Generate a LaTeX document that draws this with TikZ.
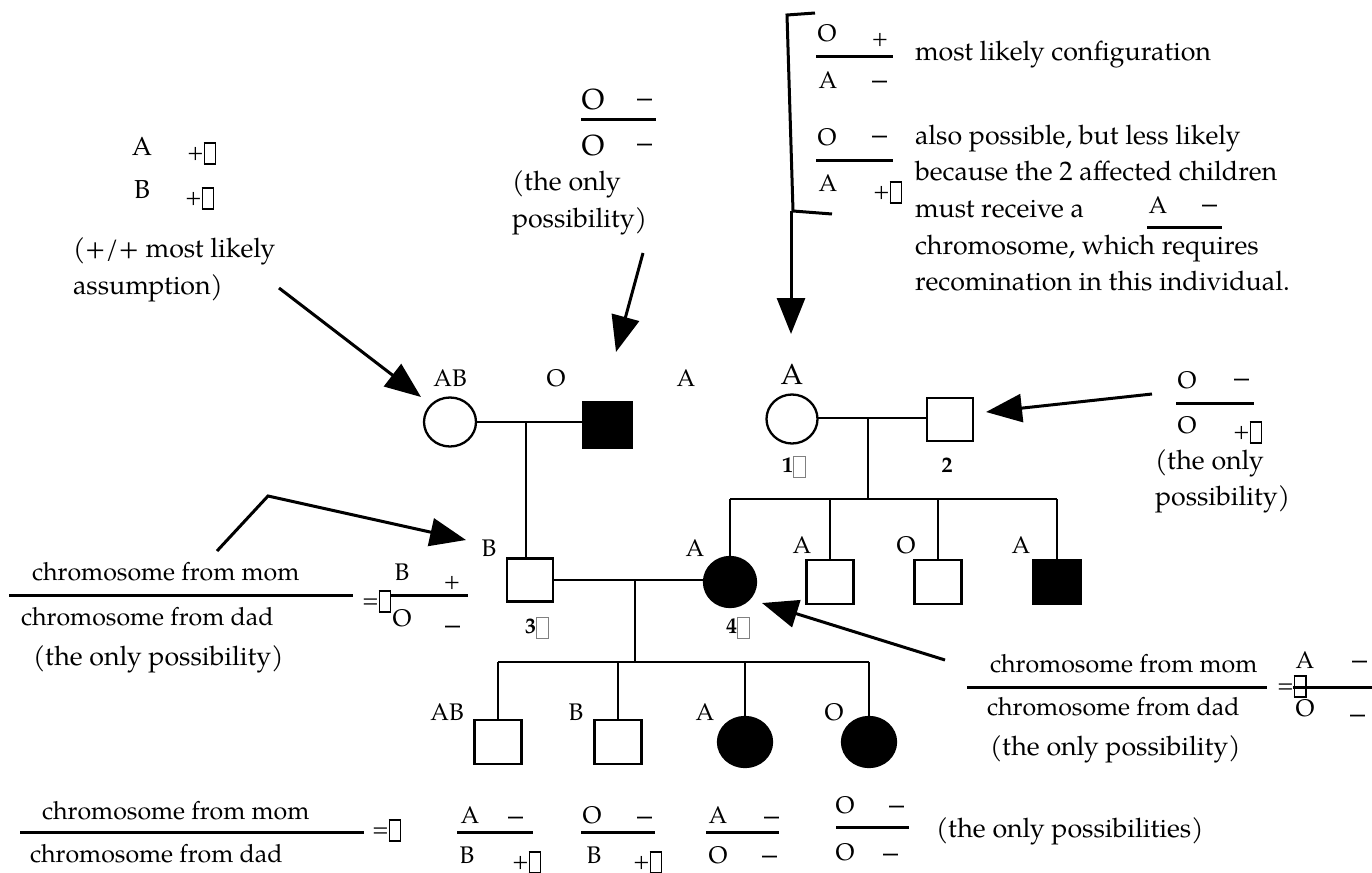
\documentclass[tikz,border=0pt]{standalone}
\usepackage{fontspec}
\setmainfont{TeX Gyre Pagella}
\usetikzlibrary{arrows.meta,shapes.geometric}
\newcommand{\tofu}{\raisebox{-0.2em}{\setlength{\fboxsep}{0pt}\setlength{\fboxrule}{0.055em}\fbox{\rule{0.47em}{0pt}\rule{0pt}{0.9em}}}}
\tikzset{
  every node/.style={inner sep=0, outer sep=0},
  capL/.style={font=\fontsize{24}{28}\selectfont, anchor=base, yshift=-8.3pt},
  capXL/.style={font=\fontsize{29}{32}\selectfont, anchor=base, yshift=-10pt},
  sgn/.style={font=\fontsize{22}{26}\selectfont, anchor=base, yshift=-6pt},
  dsh/.style={font=\fontsize{30}{34}\selectfont, anchor=base, yshift=-7.5pt},
  sgnw/.style={font=\fontsize{22}{26}\selectfont, anchor=base west, yshift=-6pt},
  txt/.style={font=\fontsize{26.8}{30}\selectfont, anchor=base west, yshift=-7.5pt},
  chrom/.style={font=\fontsize{25}{30}\selectfont, anchor=base west, yshift=-7.5pt},
  num/.style={font=\fontsize{22}{26}\selectfont\bfseries, anchor=base, yshift=-7.5pt},
  ped/.style={line width=2.3pt},
  bar/.style={line width=3pt},
  pointer/.style={line width=3pt, -{Triangle[length=36pt,width=28pt]}},
  fem/.style={ellipse, draw, line width=2.3pt, minimum width=52pt, minimum height=49pt},
  male/.style={rectangle, draw, line width=2.3pt, minimum width=47pt, minimum height=44pt},
  aff/.style={fill=black},
}
\begin{document}
\begin{tikzpicture}[x=1pt,y=-1pt]
\useasboundingbox (0,0) rectangle (1372,872);
\fill[white] (0,0) rectangle (1372,872);

% ---------- pedigree ----------
\node[fem] (i1) at (450,422) {};
\node[male,aff,minimum width=49pt,minimum height=46pt] (i2) at (607.5,425) {};
\node[fem,minimum width=51pt] (p1) at (792,419) {};
\node[male,minimum width=46pt,minimum height=43pt] (p2) at (950,419.5) {};
\node[male,minimum width=46pt,minimum height=43pt] (c3) at (530,580) {};
\node[fem,aff,minimum height=50pt] (c4) at (730,582) {};
\node[male] (c5) at (830,582) {};
\node[male] (c6) at (938,582) {};
\node[male,aff] (c7) at (1057,582) {};
\node[male] (g1) at (498,742) {};
\node[male] (g2) at (618,742) {};
\node[fem,aff,minimum width=54pt,minimum height=50pt] (g3) at (745,742) {};
\node[fem,aff,minimum width=54pt,minimum height=50pt] (g4) at (869,742) {};

\coordinate (m1) at (526,422);
\coordinate (m2) at (868,418);
\coordinate (s2) at (868,499);
\coordinate (m3) at (635,580);
\coordinate (s3) at (635,662);

\draw[ped] (i1.east) -- (i2.west |- i1.east);
\draw[ped] (m1) -- (m1 |- c3.north);
\draw[ped] (p1.east |- m2) -- (p2.west |- m2);
\draw[ped] (m2) -- (s2);
\draw[ped] (c4.north |- s2) -- (c7.north |- s2);
\foreach \n in {c4,c5,c6,c7} \draw[ped] (\n.north |- s2) -- (\n.north);
\draw[ped] (c3.east) -- (c4.west |- c3.east);
\draw[ped] (m3) -- (s3);
\draw[ped] (g1.north |- s3) -- (g4.north |- s3);
\foreach \n in {g1,g2,g3,g4} \draw[ped] (\n.north |- s3) -- (\n.north);

% pedigree labels
\node[capL] (l-i1) at (450,378) {AB};
\node[capL] (l-i2) at (556,378) {O};
\node[capL] (l-x) at (686,378) {A};
\node[capXL] (l-p1) at (792,374) {A};
\node[capL] (l-c3) at (489,548) {B};
\node[capL] (l-c4) at (695,548) {A};
\node[capL] (l-c5) at (802,545) {A};
\node[capL] (l-c6) at (906,545) {O};
\node[capL] (l-c7) at (1021,545) {A};
\node[capL] (l-g1) at (447,712) {AB};
\node[capL] (l-g2) at (576,712) {B};
\node[capL] (l-g3) at (705,712) {A};
\node[capL] (l-g4) at (834,712) {O};
\node[num] (n1) at (794,465) {1\textcolor{gray}{\tofu}};
\node[num] (n2) at (947,465) {2};
\node[num] (n3) at (537,626) {3\textcolor{gray}{\tofu}};
\node[num] (n4) at (738,626) {4\textcolor{gray}{\tofu}};

% ---------- top left ----------
\node[capL,font=\fontsize{26}{30}\selectfont] (tl-a) at (142,147) {A};
\node[sgnw] (tl-ap) at (187,153) {+\tofu};
\node[capL,font=\fontsize{26}{30}\selectfont] (tl-b) at (142,190) {B};
\node[sgnw] (tl-bp) at (185,198) {+\tofu};
\node[txt] (tl-t1) at (73,250) {(+/+ most likely};
\node[txt] (tl-t2) at (73,287) {assumption)};
\coordinate (a1s) at (279,288);
\coordinate (a1e) at (421,397);
\draw[pointer] (a1s) -- (a1e);

% ---------- top middle ----------
\node[capXL] (tm-o1) at (593,100) {O};
\node[dsh] (tm-d1) at (645,100) {–};
\draw[bar] (581,120) -- (656,120);
\node[capXL] (tm-o2) at (593,145) {O};
\node[dsh] (tm-d2) at (645,145) {–};
\node[txt] (tm-t1) at (512,183) {(the only};
\node[txt] (tm-t2) at (512,220) {possibility)};
\coordinate (a2s) at (643,253);
\coordinate (a2e) at (616,352);
\draw[pointer] (a2s) -- (a2e);

% ---------- top right ----------
\draw[bar] (815,13) -- (787,15) -- (793,211) -- (832,214);
\coordinate (a3s) at (791,211);
\coordinate (a3e) at (791,334);
\draw[pointer] (a3s) -- (a3e);
\node[capL] (tr-o1) at (827,33) {O};
\node[sgn] (tr-p1) at (880,40) {+};
\draw[bar] (816,57) -- (893,57);
\node[capL] (tr-a1) at (828,80) {A};
\node[dsh] (tr-d1) at (880,82) {–};
\node[txt] (tr-t0) at (915,53) {most likely configuration};
\node[capL] (tr-o2) at (827,137) {O};
\node[dsh] (tr-d2) at (880,137) {–};
\draw[bar] (816,160) -- (893,160);
\node[capL] (tr-a2) at (828,183) {A};
\node[sgnw] (tr-p2) at (873,192) {+\tofu};
\node[txt] (tr-t1) at (915,137) {also possible, but less likely};
\node[txt] (tr-t2) at (915,173) {because the 2 affected children};
\node[txt] (tr-t3) at (915,210) {must receive a};
\node[txt] (tr-t4) at (915,247) {chromosome, which requires};
\node[txt] (tr-t5) at (915,283) {recomination in this individual.};
\node[capL] (tr-a3) at (1158,205) {A};
\node[dsh] (tr-d3) at (1210,206) {–};
\draw[bar] (1147,227) -- (1222,227);

% ---------- right ----------
\node[capL] (r-o1) at (1187,380) {O};
\node[dsh] (r-d1) at (1242,380) {–};
\draw[bar] (1176,403) -- (1254,403);
\node[capL] (r-o2) at (1187,425) {O};
\node[sgnw] (r-p2) at (1233,432) {+\tofu};
\node[txt] (r-t1) at (1155,462) {(the only};
\node[txt] (r-t2) at (1155,498) {possibility)};
\coordinate (a4s) at (1152,394);
\coordinate (a4e) at (986,412);
\draw[pointer] (a4s) -- (a4e);

% ---------- left middle ----------
\node[chrom] (lm-t1) at (32,573) {chromosome from mom};
\draw[bar] (9,595) -- (353,595);
\node[chrom] (lm-t2) at (21,618) {chromosome from dad};
\node[txt] (lm-t3) at (33,658) {(the only possibility)};
\node[sgnw] (lm-eq) at (362,601) {=\tofu};
\node[capL] (lm-b) at (402,572) {B};
\node[sgn] (lm-p) at (452,582) {+};
\draw[bar] (391,595) -- (468,595);
\node[capL] (lm-o) at (402,618) {O};
\node[dsh] (lm-d) at (453,627) {–};
\coordinate (a5s) at (217,551);
\coordinate (a5m) at (268,496);
\coordinate (a5e) at (466,540);
\draw[pointer] (a5s) -- (a5m) -- (a5e);

% ---------- right middle ----------
\node[chrom] (rm-t1) at (990,665) {chromosome from mom};
\draw[bar] (967,687) -- (1267,687);
\node[chrom] (rm-t2) at (987,708) {chromosome from dad};
\node[txt] (rm-t3) at (990,748) {(the only possibility)};
\node[sgnw] (rm-eq) at (1277,686) {=\tofu};
\node[capL] (rm-a) at (1305,660) {A};
\node[dsh] (rm-d1) at (1360,662) {–};
\draw[bar] (1293,687) -- (1372,687);
\node[capL] (rm-o) at (1305,708) {O};
\node[dsh] (rm-d2) at (1358,716) {–};
\coordinate (a6s) at (945,660);
\coordinate (a6e) at (762,603);
\draw[pointer] (a6s) -- (a6e);

% ---------- bottom ----------
\node[chrom] (b-t1) at (42,812) {chromosome from mom};
\draw[bar] (20,832) -- (364,832);
\node[chrom] (b-t2) at (30,855) {chromosome from dad};
\node[sgnw] (b-eq) at (372,830) {=\tofu};
% fraction 1
\node[capL] (f1-a) at (470,815) {A};
\node[dsh] (f1-d) at (516,818) {–};
\draw[bar] (457,832) -- (533,832);
\node[capL] (f1-b) at (467,855) {B};
\node[sgnw] (f1-p) at (512,862) {+\tofu};
% fraction 2
\node[capL] (f2-o) at (592,815) {O};
\node[dsh] (f2-d) at (645,818) {–};
\draw[bar] (581,832) -- (655,832);
\node[capL] (f2-b) at (594,855) {B};
\node[sgnw] (f2-p) at (633,862) {+\tofu};
% fraction 3
\node[capL] (f3-a) at (718,815) {A};
\node[dsh] (f3-d) at (772,818) {–};
\draw[bar] (706,832) -- (779,832);
\node[capL] (f3-o) at (718,855) {O};
\node[dsh] (f3-d2) at (770,857) {–};
% fraction 4
\node[capL] (f4-o) at (845,805) {O};
\node[dsh] (f4-d) at (897,807) {–};
\draw[bar] (836,827) -- (909,827);
\node[capL] (f4-o2) at (845,852) {O};
\node[dsh] (f4-d2) at (891,855) {–};
\node[txt] (b-t3) at (936,830) {(the only possibilities)};
\end{tikzpicture}
\end{document}
